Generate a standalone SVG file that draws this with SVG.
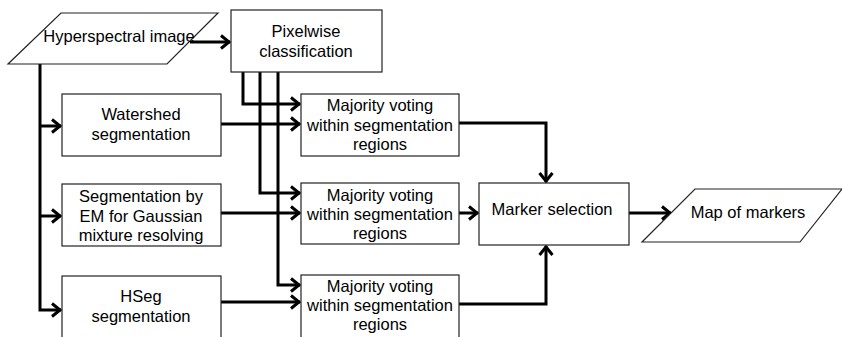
<svg xmlns="http://www.w3.org/2000/svg" width="842" height="337" viewBox="0 0 842 337">
<style>
.box{fill:#fff;stroke:#222;stroke-width:1.2}
.t{font-family:"Liberation Sans",Arial,sans-serif;font-size:16.5px;fill:#000;text-anchor:middle;dominant-baseline:central}
.c{fill:none;stroke:#000;stroke-width:3;marker-end:url(#ah)}
</style>
<defs>
<marker id="ah" markerUnits="userSpaceOnUse" markerWidth="16" markerHeight="16" viewBox="0 0 16 16" refX="13" refY="8" orient="auto">
<path d="M4,1.5 L12,8 L4,14.5" fill="none" stroke="#000" stroke-width="3"/>
</marker>
</defs>
<rect width="842" height="337" fill="#fff"/>
<g id="connectors">
<path class="c" d="M190,42 H230"/>
<path class="c" d="M40,64 V310 H61"/>
<path class="c" d="M40,126 H61"/>
<path class="c" d="M40,216 H61"/>
<path class="c" d="M243,72 V104 H300"/>
<path class="c" d="M260,72 V193 H300"/>
<path class="c" d="M278,72 V285 H300"/>
<path class="c" d="M221,124 H300"/>
<path class="c" d="M221,213 H300"/>
<path class="c" d="M221,302 H300"/>
<path class="c" d="M459,123 H546 V182"/>
<path class="c" d="M459,213 H478"/>
<path class="c" d="M459,304 H546 V246"/>
<path class="c" d="M629,213 H671"/>
</g>
<g id="hyperspectral">
<polygon class="box" points="61,13 218,13 167,64 8,64"/>
<text class="t" x="119" y="36">Hyperspectral image</text>
</g>
<g id="pixelwise">
<rect class="box" x="231" y="10" width="151" height="62"/>
<text class="t" x="306" y="31">Pixelwise</text>
<text class="t" x="306" y="51">classification</text>
</g>
<g id="watershed">
<rect class="box" x="62" y="94" width="159" height="62"/>
<text class="t" x="141" y="114">Watershed</text>
<text class="t" x="141" y="134">segmentation</text>
</g>
<g id="em">
<rect class="box" x="62" y="184" width="159" height="62"/>
<text class="t" x="141" y="196">Segmentation by</text>
<text class="t" x="141" y="216">EM for Gaussian</text>
<text class="t" x="141" y="235">mixture resolving</text>
</g>
<g id="hseg">
<rect class="box" x="62" y="276" width="159" height="64"/>
<text class="t" x="141" y="296">HSeg</text>
<text class="t" x="141" y="316">segmentation</text>
</g>
<g id="vote1">
<rect class="box" x="301" y="94" width="158" height="62"/>
<text class="t" x="380" y="105">Majority voting</text>
<text class="t" x="380" y="125">within segmentation</text>
<text class="t" x="380" y="144">regions</text>
</g>
<g id="vote2">
<rect class="box" x="301" y="183" width="158" height="61"/>
<text class="t" x="380" y="195">Majority voting</text>
<text class="t" x="380" y="214">within segmentation</text>
<text class="t" x="380" y="233">regions</text>
</g>
<g id="vote3">
<rect class="box" x="301" y="275" width="158" height="65"/>
<text class="t" x="380" y="286">Majority voting</text>
<text class="t" x="380" y="305">within segmentation</text>
<text class="t" x="380" y="324">regions</text>
</g>
<g id="marker">
<rect class="box" x="479" y="183" width="150" height="62"/>
<text class="t" x="552" y="209">Marker selection</text>
</g>
<g id="map">
<polygon class="box" points="695,189 842,189 800,242 642,242"/>
<text class="t" x="748" y="212">Map of markers</text>
</g>
</svg>
